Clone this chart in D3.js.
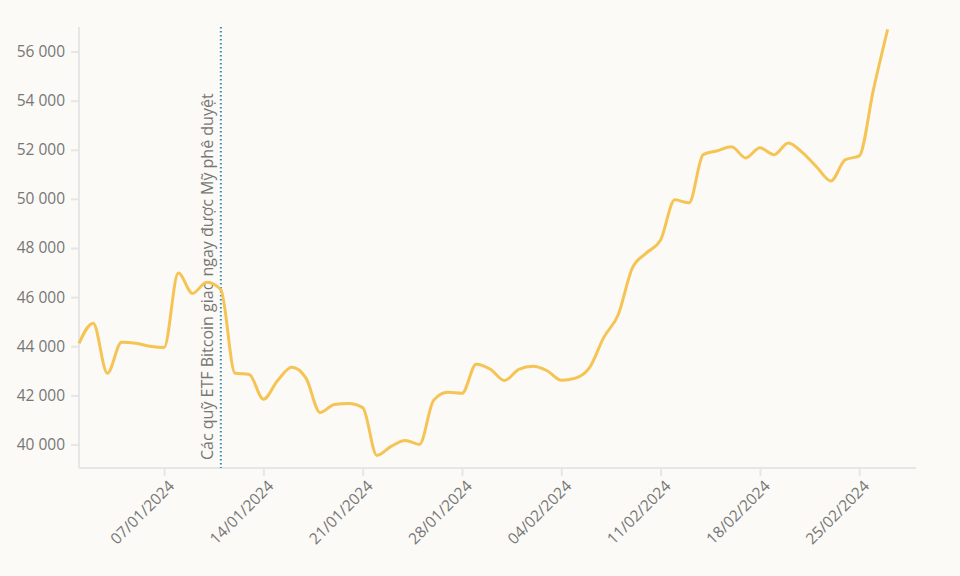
<!DOCTYPE html>
<html><head><meta charset="utf-8">
<script src="https://cdn.jsdelivr.net/npm/d3@7"></script>
<style>
body{margin:0;background:#fbfaf6;}
text{font-family:"Open Sans",sans-serif;}
</style></head>
<body><div class="chart"></div>
<script>
// Bitcoin price (USD), daily, 01/01/2024 - 27/02/2024
const startDate = "2024-01-01";
const prices = [44120,44940,42900,44160,44120,44000,43950,46980,46150,46600,46300,42900,42850,
  41840,42600,43140,42700,41300,41630,41670,41500,39550,39920,40160,40000,41800,42120,42080,
  43270,43060,42600,43060,43180,43000,42610,42700,43140,44370,45270,47180,47800,48330,49960,
  49840,51800,51960,52120,51670,52080,51800,52280,51880,51300,50730,51590,51750,54450,56900];
const yTicks = [40000,42000,44000,46000,48000,50000,52000,54000,56000];
const xTicks = ["2024-01-07","2024-01-14","2024-01-21","2024-01-28","2024-02-04","2024-02-11","2024-02-18","2024-02-25"];
const eventDate = "2024-01-11";
const eventLabel = "Các quỹ ETF Bitcoin giao ngay được Mỹ phê duyệt";

const parse = d3.utcParse("%Y-%m-%d");
const t0 = parse(startDate);
const data = prices.map((v, i) => ({ date: d3.utcDay.offset(t0, i), value: v }));

const width = 960, height = 576;
const margin = { top: 27, right: 44, bottom: 108, left: 79 };

const svg = d3.select(".chart").append("svg")
  .attr("width", width).attr("height", height);

const x = d3.scaleUtc()
  .domain([t0, d3.utcDay.offset(t0, 59.2)])
  .range([margin.left, width - margin.right]);
const y = d3.scaleLinear()
  .domain([39040, 57000])
  .range([height - margin.bottom, margin.top]);

const fmt = v => d3.format(",")(v).replace(/,/g, " ");

// Y axis
const yAxis = svg.append("g")
  .attr("transform", `translate(${margin.left},0)`)
  .call(d3.axisLeft(y).tickValues(yTicks).tickFormat(fmt).tickSize(8).tickPadding(6));
yAxis.select(".domain").attr("stroke", "#e6e6e6").attr("stroke-width", 2)
  .attr("d", `M0,${margin.top}V${height - margin.bottom}`);
yAxis.selectAll(".tick line").attr("stroke", "#e6e6e6").attr("stroke-width", 2);
yAxis.selectAll(".tick text").attr("fill", "#777").style("font-size", "15.5px");

// X axis
const xAxis = svg.append("g")
  .attr("transform", `translate(0,${height - margin.bottom})`)
  .call(d3.axisBottom(x).tickValues(xTicks.map(parse)).tickFormat(d3.utcFormat("%d/%m/%Y")).tickSize(8));
xAxis.select(".domain").attr("stroke", "#e6e6e6").attr("stroke-width", 2)
  .attr("d", `M${margin.left},0H${width - margin.right}`);
xAxis.selectAll(".tick line").attr("stroke", "#e6e6e6").attr("stroke-width", 2);
xAxis.selectAll(".tick text").attr("fill", "#777").style("font-size", "15.5px")
  .attr("text-anchor", "end").attr("dx", "-6").attr("dy", "10")
  .attr("transform", "rotate(-45)");

// Event line
const ex = x(parse(eventDate));
svg.append("line")
  .attr("x1", ex).attr("x2", ex)
  .attr("y1", margin.top).attr("y2", height - margin.bottom)
  .attr("stroke", "#3b8db3").attr("stroke-width", 2).attr("stroke-dasharray", "1.5,2.5");
svg.append("text")
  .attr("transform", `translate(${ex - 8},${height - margin.bottom - 8}) rotate(-90)`)
  .attr("fill", "#777").style("font-size", "16px")
  .text(eventLabel);

// Price line
svg.append("path")
  .datum(data)
  .attr("fill", "none")
  .attr("stroke", "#f5c455")
  .attr("stroke-width", 3)
  .attr("d", d3.line().x(d => x(d.date)).y(d => y(d.value)).curve(d3.curveMonotoneX));
</script>
</body></html>
